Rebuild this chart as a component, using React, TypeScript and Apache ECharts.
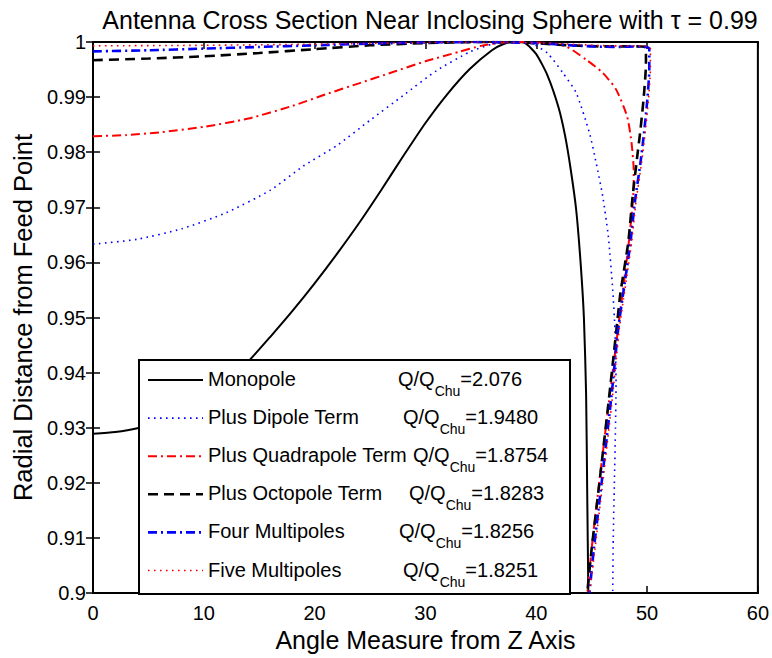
import React, { useEffect, useRef } from "react";
import * as echarts from "echarts";

// Angle (degrees from the Z axis) and radial distance pairs for each expansion
const monopole: [number, number][] = [
  [0, 0.9289], [2, 0.9292], [4, 0.9299], [6, 0.9312], [8, 0.933], [10, 0.9352],
  [12, 0.9383], [14, 0.942], [16, 0.9465], [18, 0.9512], [20, 0.9562], [22, 0.9615],
  [24, 0.9671], [26, 0.9731], [28, 0.9793], [30, 0.9853], [32, 0.9906], [34, 0.9951],
  [36, 0.9985], [37, 0.9996], [38, 1.0], [39, 0.9998], [40, 0.9978], [41, 0.994],
  [42, 0.9882], [42.6, 0.983], [43.1, 0.977], [43.6, 0.9696], [44.0, 0.96],
  [44.3, 0.95], [44.5, 0.936], [44.6, 0.918], [44.7, 0.9],
];

const dipole: [number, number][] = [
  [0, 0.9633], [4, 0.9642], [8, 0.9661], [12, 0.969], [16, 0.9731], [19, 0.9775],
  [22, 0.9812], [25, 0.9858], [28, 0.9903], [31, 0.9948], [34, 0.9982], [36, 0.9996],
  [38, 1.0], [39.5, 0.9998], [41, 0.998], [42.4, 0.9944], [43.6, 0.9908],
  [44.8, 0.9835], [45.4, 0.9781], [46.0, 0.972], [46.5, 0.9648], [46.9, 0.9551],
  [47.1, 0.9479], [47.2, 0.938], [47.15, 0.93], [47.05, 0.92], [46.95, 0.91], [46.9, 0.9],
];

const quadrapole: [number, number][] = [
  [0, 0.9829], [3, 0.9831], [6, 0.9836], [10, 0.9846], [14, 0.9861], [18, 0.9884],
  [21, 0.9905], [24, 0.9925], [27, 0.9945], [30, 0.9965], [33, 0.9982], [35, 0.9993],
  [37, 0.9999], [39, 1.0], [41, 0.9998], [42.7, 0.9992], [44.5, 0.9968], [46.0, 0.9944],
  [47.2, 0.9914], [48.2, 0.9865], [48.6, 0.9817], [48.8, 0.9765], [48.75, 0.972],
  [48.35, 0.9636], [47.7, 0.953], [46.7, 0.937], [45.8, 0.922], [45.1, 0.91], [44.6, 0.9],
];

const octopole: [number, number][] = [
  [0, 0.9967], [5, 0.997], [10, 0.9974], [15, 0.998], [20, 0.9987], [25, 0.9994],
  [30, 0.9998], [35, 1.0], [38, 1.0], [42, 0.9995], [46, 0.9992], [49, 0.9992],
  [49.9, 0.999], [49.9, 0.996], [49.7, 0.99], [49.4, 0.984], [49.1, 0.979],
  [48.7, 0.972], [48.3, 0.9636], [47.6, 0.9545], [47.3, 0.949], [46.6, 0.936],
  [45.7, 0.92], [45.0, 0.908], [44.6, 0.9],
];

const fourMultipoles: [number, number][] = [
  [0, 0.9983], [5, 0.9985], [10, 0.9988], [15, 0.9991], [20, 0.9994], [25, 0.9997],
  [30, 0.9999], [35, 1.0], [40, 0.9998], [44, 0.9993], [47, 0.9991], [49.5, 0.9992],
  [50.2, 0.9988], [50.2, 0.995], [50.0, 0.989], [49.7, 0.983], [49.4, 0.978],
  [48.9, 0.971], [48.5, 0.9636], [47.9, 0.9551], [47.4, 0.948], [46.8, 0.936],
  [45.9, 0.92], [45.2, 0.908], [44.8, 0.9],
];

const fiveMultipoles: [number, number][] = [
  [0, 0.9993], [10, 0.9994], [20, 0.9996], [30, 0.9999], [36, 1.0], [42, 0.9997],
  [47, 0.9993], [49.6, 0.9993], [50.3, 0.999], [50.3, 0.995], [50.1, 0.989],
  [49.8, 0.983], [49.5, 0.978], [49.0, 0.971], [48.6, 0.9636], [48.0, 0.9551],
  [47.5, 0.948], [46.9, 0.936], [46.0, 0.92], [45.3, 0.908], [44.8, 0.9],
];

const seriesNames = [
  "Monopole",
  "Plus Dipole Term",
  "Plus Quadrapole Term",
  "Plus Octopole Term",
  "Four Multipoles",
  "Five Multipoles",
];
const qRatios = ["2.076", "1.9480", "1.8754", "1.8283", "1.8256", "1.8251"];
const seriesData = [monopole, dipole, quadrapole, octopole, fourMultipoles, fiveMultipoles];

// Line appearance per series
const lineStyles = [
  { color: "#000000", width: 2, dash: "solid" as any },
  { color: "#0000ff", width: 1.6, dash: [1.6, 4.4] },
  { color: "#ff0000", width: 2, dash: [9, 4, 2, 4] },
  { color: "#000000", width: 2.6, dash: [10, 6] },
  { color: "#0000ff", width: 2.6, dash: [9, 4, 2, 4] },
  { color: "#ff0000", width: 1.6, dash: [1.6, 4.4] },
];

// Legend box layout (pixels)
const FONT = "'Liberation Sans', Arial, Helvetica, sans-serif";
const legendBox = { x: 139, y: 360, w: 431, h: 234 };
const legendRowY0 = 379;
const legendRowStep = 38.1;
const legendQX = [398, 403, 413, 409, 399, 403];

function measure(text: string, size: number): number {
  const ctx = document.createElement("canvas").getContext("2d");
  if (!ctx) return text.length * size * 0.55;
  ctx.font = `${size}px ${FONT}`;
  return ctx.measureText(text).width;
}

function buildLegend(): any[] {
  const els: any[] = [
    {
      type: "rect",
      z: 100,
      shape: { x: legendBox.x, y: legendBox.y, width: legendBox.w, height: legendBox.h },
      style: { fill: "#ffffff", stroke: "#000000", lineWidth: 2 },
    },
  ];
  const qw = measure("Q/Q", 20);
  const cw = measure("Chu", 14);
  seriesNames.forEach((name, i) => {
    const y = legendRowY0 + i * legendRowStep;
    const st = lineStyles[i];
    els.push({
      type: "line",
      z: 101,
      shape: { x1: 148, y1: y + 1, x2: 203, y2: y + 1 },
      style: { stroke: st.color, lineWidth: st.width, lineDash: st.dash === "solid" ? null : st.dash },
    });
    els.push({
      type: "text",
      z: 101,
      x: 208,
      y,
      style: { text: name, fill: "#000", font: `20px ${FONT}`, verticalAlign: "middle", align: "left" },
    });
    const qx = legendQX[i];
    els.push({
      type: "text",
      z: 101,
      x: qx,
      y,
      style: { text: "Q/Q", fill: "#000", font: `20px ${FONT}`, verticalAlign: "middle", align: "left" },
    });
    els.push({
      type: "text",
      z: 101,
      x: qx + qw,
      y: y + 12,
      style: { text: "Chu", fill: "#000", font: `14px ${FONT}`, verticalAlign: "middle", align: "left" },
    });
    els.push({
      type: "text",
      z: 101,
      x: qx + qw + cw,
      y,
      style: { text: "=" + qRatios[i], fill: "#000", font: `20px ${FONT}`, verticalAlign: "middle", align: "left" },
    });
  });
  return els;
}

export default function App() {
  const ref = useRef<HTMLDivElement>(null);

  useEffect(() => {
    if (!ref.current) return;
    document.body.style.margin = "0";
    const chart = echarts.init(ref.current, undefined, { renderer: "svg" });

    const axisLine = { show: true, lineStyle: { color: "#000", width: 2 } };
    const tick = { show: true, inside: true, length: 7, lineStyle: { color: "#000", width: 1.5 } };
    const tickLabel = { color: "#000", fontSize: 20, fontFamily: FONT };

    chart.setOption({
      animation: false,
      backgroundColor: "#ffffff",
      title: {
        text: "Antenna Cross Section Near Inclosing Sphere with τ = 0.99",
        left: 425,
        top: 2,
        textAlign: "center",
        textStyle: { color: "#000", fontSize: 25, fontWeight: "normal", fontFamily: FONT },
      },
      grid: {
        left: 93,
        right: 13,
        top: 42,
        bottom: 65,
        show: true,
        borderColor: "#000",
        borderWidth: 2,
        backgroundColor: "transparent",
      },
      xAxis: [
        {
          type: "value",
          min: 0,
          max: 60,
          interval: 10,
          position: "bottom",
          axisLine,
          axisTick: tick,
          splitLine: { show: false },
          axisLabel: { ...tickLabel, margin: 10, showMinLabel: true, showMaxLabel: true },
          name: "Angle Measure from Z Axis",
          nameLocation: "middle",
          nameGap: 30,
          nameTextStyle: { color: "#000", fontSize: 25, fontFamily: FONT },
        },
        {
          type: "value",
          min: 0,
          max: 60,
          interval: 10,
          position: "top",
          axisLine,
          axisTick: tick,
          splitLine: { show: false },
          axisLabel: { show: false },
        },
      ],
      yAxis: [
        {
          type: "value",
          min: 0.9,
          max: 1,
          interval: 0.01,
          position: "left",
          axisLine,
          axisTick: tick,
          splitLine: { show: false },
          axisLabel: {
            ...tickLabel,
            margin: 7,
            showMinLabel: true,
            showMaxLabel: true,
            formatter: (v: number) => String(parseFloat(v.toFixed(2))),
          },
          name: "Radial Distance from Feed Point",
          nameLocation: "middle",
          nameRotate: 90,
          nameGap: 54,
          nameTextStyle: { color: "#000", fontSize: 25.5, fontFamily: FONT },
        },
        {
          type: "value",
          min: 0.9,
          max: 1,
          interval: 0.01,
          position: "right",
          axisLine,
          axisTick: tick,
          splitLine: { show: false },
          axisLabel: { show: false },
        },
      ],
      series: seriesData.map((data, i) => ({
        type: "line",
        name: seriesNames[i],
        data,
        xAxisIndex: 0,
        yAxisIndex: 0,
        showSymbol: false,
        symbol: "none",
        smooth: 0.2,
        clip: true,
        z: 2 + i,
        lineStyle: {
          color: lineStyles[i].color,
          width: lineStyles[i].width,
          type: lineStyles[i].dash,
        },
      })),
      graphic: { elements: buildLegend() },
    });

    return () => chart.dispose();
  }, []);

  return <div ref={ref} style={{ width: 772, height: 658 }} />;
}
